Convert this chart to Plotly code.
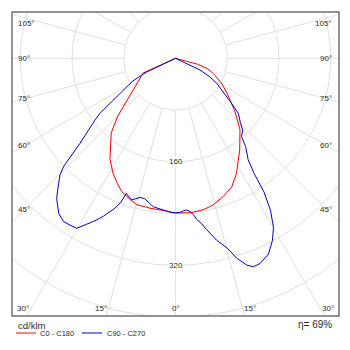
import numpy as np
import plotly.graph_objects as go

# ---------------- data ----------------
# gamma angle in degrees (negative = left half), intensity in cd/klm
red_gamma = [-180, -67, -65.5, -60, -53, -49.5, -45, -40.8, -36.4, -33, -28.6, -25, -22, -18,
             -14.8, -9.7, -4.7, 0, 5.4, 10.4, 14.4, 19, 23.6, 28, 35, 42, 48, 56, 62, 68, 72,
             75, 78, 180]
red_int = [0, 0, 55, 64, 82, 99, 126, 152, 170, 186, 202, 213, 222, 229,
           234, 235, 236, 239, 240, 238, 234, 226, 217, 201, 173, 149, 124, 96, 80, 63, 52,
           35, 0, 0]

blue_gamma = [-180, -66, -64.5, -62, -57, -54, -52.5, -48.3, -46, -44.7, -42.4, -40.3, -37,
              -34.5, -32.3, -30.2, -28.5, -26, -24.5, -23, -22, -20.8, -20, -19, -18.5, -17.2,
              -16, -14.3, -12.5, -11.5, -10, -8.5, -6, -4.6, -2, 0, 2, 3, 4.2, 5.4, 6.5, 7.5,
              9, 10.3, 11.5, 12.7, 14, 15.5, 17, 19, 20.5, 22.4, 25.4, 28, 30.1, 32, 33.5,
              34.3, 35.6, 38.5, 40.2, 43.1, 45.3, 48.8, 51.4, 58.8, 61.5, 64.5, 67, 180]
blue_int = [0, 0, 50, 75, 108, 144, 157, 198, 240, 254, 269, 284, 300,
            306, 305, 304, 293, 278, 268, 258, 250, 238, 222, 225, 226, 229,
            226, 222, 222, 224, 228, 232, 234, 235, 238, 239, 238, 236, 235, 238, 243, 251,
            259, 269, 278, 288, 296, 306, 323, 338, 344, 343, 335, 319, 302, 277, 248,
            216, 193, 174, 158, 152, 141, 129, 110, 74.5, 61, 42, 0, 0]

series_names = ["C0 - C180", "C90 - C270"]
circle_values = [80, 160, 240, 320, 400, 480]
labelled_values = [160, 320]
side_angles = [105, 90, 75, 60, 45]
bottom_angles = [-30, -15, 0, 15, 30]
unit_label = "cd/klm"
efficiency_label = "η= 69%"

# ---------------- geometry ----------------
W, H = 350, 350
L, R, T, B = 12, 11, 12, 34
CX, CY = 175.5, 58.3        # pixel position of the luminaire centre
S = 0.647                   # pixels per cd/klm


def px_x(p):
    return (p - CX) / S


def px_y(p):
    return (CY - p) / S


x_range = [px_x(L), px_x(W - R)]
y_range = [px_y(H - B), px_y(T)]


def to_xy(gamma, inten):
    g = np.radians(np.asarray(gamma, dtype=float))
    i = np.asarray(inten, dtype=float)
    return i * np.sin(g), -i * np.cos(g)


fig = go.Figure()

# polar grid
t = np.linspace(0, 2 * np.pi, 721)
gx, gy = [], []
for r in circle_values:
    gx += list(r * np.sin(t)) + [None]
    gy += list(-r * np.cos(t)) + [None]
for a in range(-180, 180, 15):
    ar = np.radians(a)
    gx += [circle_values[0] * np.sin(ar), 900 * np.sin(ar), None]
    gy += [-circle_values[0] * np.cos(ar), -900 * np.cos(ar), None]
fig.add_trace(go.Scatter(x=gx, y=gy, mode="lines", line=dict(color="#e0e0e0", width=1),
                         hoverinfo="skip", showlegend=False))

rx, ry = to_xy(red_gamma, red_int)
bx, by = to_xy(blue_gamma, blue_int)
fig.add_trace(go.Scatter(x=rx, y=ry, mode="lines", name=series_names[0],
                         line=dict(color="rgb(255,0,0)", width=1), showlegend=False))
fig.add_trace(go.Scatter(x=bx, y=by, mode="lines", name=series_names[1],
                         line=dict(color="rgb(0,0,205)", width=1), showlegend=False))

FONT = "Liberation Sans"
TXT = "#2a2a2a"
ann = []

# side angle labels
for g in side_angles:
    gr = np.radians(g)
    dx = px_x(24)
    yv = dx / np.tan(gr)            # y of the radial line at label x (left side)
    yv = min(yv, px_y(23))
    ann.append(dict(x=px_x(16), y=yv, text=f"{g}°", xanchor="left", yanchor="middle",
                    showarrow=False, font=dict(size=8, color=TXT, family=FONT)))
    ann.append(dict(x=px_x(334), y=yv, text=f"{g}°", xanchor="right", yanchor="middle",
                    showarrow=False, font=dict(size=8, color=TXT, family=FONT)))

# bottom angle labels
yb = px_y(308)
for g in bottom_angles:
    xv = -yb * np.tan(np.radians(g))
    anchor = "right" if g < 0 else ("left" if g > 0 else "center")
    ann.append(dict(x=xv, y=yb, text=f"{abs(g)}°", xanchor=anchor, yanchor="middle",
                    showarrow=False, font=dict(size=8, color=TXT, family=FONT)))

# radial value labels
for v in labelled_values:
    ann.append(dict(x=0, y=-v, text=str(v), xanchor="center", yanchor="middle",
                    showarrow=False, bgcolor="white", borderpad=0,
                    font=dict(size=8, color=TXT, family=FONT)))


def paper_x(p):
    return (p - L) / (W - L - R)


def paper_y(p):
    return (H - B - p) / (H - T - B)


ann.append(dict(x=paper_x(16), y=paper_y(325), xref="paper", yref="paper", text=unit_label,
                xanchor="left", yanchor="middle", showarrow=False,
                font=dict(size=9.5, color=TXT, family=FONT)))
ann.append(dict(x=paper_x(334), y=paper_y(324), xref="paper", yref="paper",
                text=efficiency_label, xanchor="right", yanchor="middle", showarrow=False,
                font=dict(size=10, color=TXT, family=FONT)))
ann.append(dict(x=paper_x(38), y=paper_y(333), xref="paper", yref="paper", text=series_names[0],
                xanchor="left", yanchor="middle", showarrow=False,
                font=dict(size=7.5, color=TXT, family=FONT)))
ann.append(dict(x=paper_x(105), y=paper_y(333), xref="paper", yref="paper", text=series_names[1],
                xanchor="left", yanchor="middle", showarrow=False,
                font=dict(size=7.5, color=TXT, family=FONT)))

shapes = [
    dict(type="rect", xref="paper", yref="paper", x0=0, x1=1, y0=0, y1=1,
         line=dict(color="#707070", width=1.5)),
    dict(type="line", xref="paper", yref="paper", x0=paper_x(16), x1=paper_x(36),
         y0=paper_y(333), y1=paper_y(333), line=dict(color="rgb(255,0,0)", width=1)),
    dict(type="line", xref="paper", yref="paper", x0=paper_x(82), x1=paper_x(102),
         y0=paper_y(333), y1=paper_y(333), line=dict(color="rgb(0,0,205)", width=1)),
]

fig.update_layout(
    width=W, height=H,
    margin=dict(l=L, r=R, t=T, b=B, pad=0),
    paper_bgcolor="white", plot_bgcolor="white",
    xaxis=dict(range=x_range, visible=False, fixedrange=True),
    yaxis=dict(range=y_range, visible=False, fixedrange=True),
    annotations=ann, shapes=shapes, showlegend=False,
)

fig.write_html("out.html")
